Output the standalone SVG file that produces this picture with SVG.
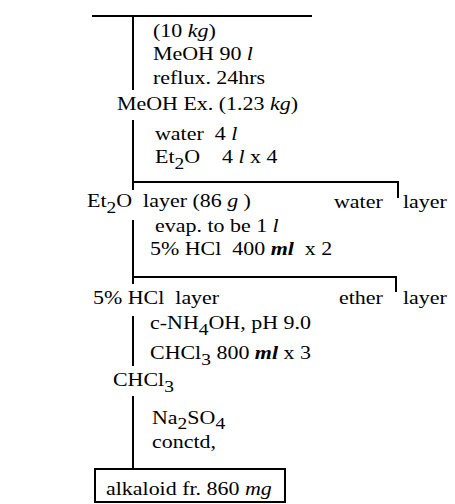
<svg xmlns="http://www.w3.org/2000/svg" width="455" height="504" viewBox="0 0 455 504">
<style>
text{font-family:"Liberation Serif","Times New Roman",serif;font-size:18px;fill:#000;white-space:pre;transform-box:fill-box;transform-origin:0 50%;transform:scale(1.22,1)}
.i{font-style:italic}
.bi{font-style:italic;font-weight:bold}
.sub{font-size:16px}
.c line{stroke:#000;stroke-width:2;fill:none}
</style>
<rect width="455" height="504" fill="#fff"/>
<g class="c" id="connectors">
<line x1="92" y1="16" x2="312" y2="16" stroke-width="2.5"/>
<line x1="133" y1="16" x2="133" y2="90" stroke-width="2.5"/>
<line x1="133" y1="120" x2="133" y2="190"/>
<line x1="133" y1="182" x2="399" y2="182"/>
<line x1="398" y1="182" x2="398" y2="198"/>
<line x1="133" y1="220" x2="133" y2="284"/>
<line x1="133" y1="277" x2="397" y2="277"/>
<line x1="396" y1="277" x2="396" y2="292"/>
<line x1="133" y1="316" x2="133" y2="366"/>
<line x1="133" y1="396" x2="133" y2="469"/>
</g>
<g id="start"><text x="153" y="37">(10 <tspan class="i">kg</tspan>)</text>
<text x="153" y="60">MeOH 90 <tspan class="i">l</tspan></text>
<text x="153" y="84">reflux. 24hrs</text></g>
<g id="meoh-ex"><text x="117" y="110">MeOH Ex. (1.23 <tspan class="i">kg</tspan>)</text></g>
<g id="step2"><text x="155" y="140">water  4 <tspan class="i">l</tspan></text>
<text x="155" y="163">Et<tspan class="sub" dy="6">2</tspan><tspan dy="-6">O    4 </tspan><tspan class="i">l</tspan> x 4</text></g>
<g id="et2o-layer"><text x="87" y="207">Et<tspan class="sub" dy="6">2</tspan><tspan dy="-6">O  layer (86 </tspan><tspan class="i">g</tspan> )</text></g>
<g id="water-layer"><text x="334" y="208">water</text><text x="403" y="208">layer</text></g>
<g id="step3"><text x="155" y="232">evap. to be 1 <tspan class="i">l</tspan></text>
<text x="150" y="255">5% HCl  400 <tspan class="bi">ml</tspan>  x 2</text></g>
<g id="hcl-layer"><text x="93" y="304">5% HCl  layer</text></g>
<g id="ether-layer"><text x="339" y="304">ether</text><text x="403" y="304">layer</text></g>
<g id="step4"><text x="150" y="329">c-NH<tspan class="sub" dy="6">4</tspan><tspan dy="-6">OH, pH 9.0</tspan></text>
<text x="150" y="359">CHCl<tspan class="sub" dy="6">3</tspan><tspan dy="-6"> 800 </tspan><tspan class="bi">ml</tspan> x 3</text></g>
<g id="chcl3"><text x="113" y="386">CHCl<tspan class="sub" dy="6">3</tspan></text></g>
<g id="step5"><text x="152" y="424">Na<tspan class="sub" dy="5">2</tspan><tspan dy="-5">SO</tspan><tspan class="sub" dy="5">4</tspan></text>
<text x="152" y="448">conctd,</text></g>
<g id="alkaloid"><rect x="95" y="469" width="190" height="33" fill="none" stroke="#000" stroke-width="2"/>
<text x="106" y="495">alkaloid fr. 860 <tspan class="i">mg</tspan></text></g>
</svg>
